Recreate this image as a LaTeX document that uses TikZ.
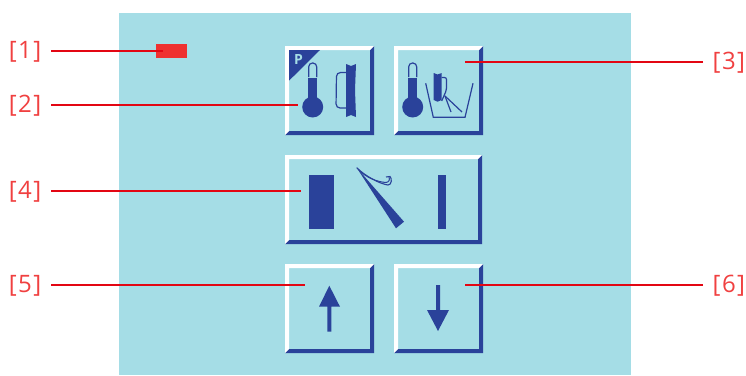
\documentclass[tikz,border=0pt]{standalone}
\usepackage{fontspec}
\setmainfont{Open Sans}
\newfontfamily\tagfont{Open Sans}[LetterSpace=6]
\usepackage{xcolor}
\usetikzlibrary{positioning, calc}

\definecolor{panelblue}{HTML}{A5DDE6}
\definecolor{iconblue}{HTML}{2A429A}
\definecolor{lampred}{HTML}{EF3030}
\definecolor{leadred}{HTML}{E30613}
\definecolor{tagred}{HTML}{F04040}

\begin{document}
\begin{tikzpicture}[
  x=1pt, y=-1pt,
  panel/.style={fill=panelblue, minimum width=512pt, minimum height=362pt, inner sep=0pt, anchor=north west},
  btn/.style={minimum width=#1, minimum height=89pt, inner sep=0pt, anchor=north west,
    path picture={
      \fill[white] (path picture bounding box.south west) -- (path picture bounding box.north west)
        -- (path picture bounding box.north east) -- ++(-4,4)
        -- ($(path picture bounding box.north west)+(4,4)$)
        -- ($(path picture bounding box.south west)+(4,-4)$) -- cycle;
      \fill[iconblue] (path picture bounding box.south west) -- (path picture bounding box.south east)
        -- (path picture bounding box.north east) -- ++(-4,4)
        -- ($(path picture bounding box.south east)+(-4,-4)$)
        -- ($(path picture bounding box.south west)+(4,-4)$) -- cycle;
    }},
  btn/.default=89pt,
  tagl/.style={font=\tagfont\fontsize{24}{24}\selectfont, text=tagred, text height=19pt, text depth=5pt, inner xsep=9.5pt, inner ysep=0pt, anchor=east},
  tagr/.style={font=\tagfont\fontsize{24}{24}\selectfont, text=tagred, text height=19pt, text depth=5pt, inner xsep=9.5pt, inner ysep=0pt, anchor=west},
  lead/.style={draw=leadred, line width=2.8pt},
  ico/.style={fill=iconblue},
  icoline/.style={draw=iconblue, line width=1.2pt},
  therm/.pic={
    \fill[ico] (0,0) circle (10.5);
    \fill[ico] (-4.5,-29) rectangle (4.5,-6);
    \draw[icoline, rounded corners=3.8pt] (-4,-30) -- (-4,-44) -- (4,-44) -- (4,-30);
  }
]
  \useasboundingbox (0,0) rectangle (746,375);
  \node[panel] (pnl) at (119,13) {};

  \node[fill=lampred, minimum width=31pt, minimum height=13.5pt, inner sep=0pt, anchor=north west] (lamp) at (156,44) {};

  \node[btn] (bheat) at (285,46) {};
  \node[btn] (bbath) at (394,46) {};
  \node[btn=197pt] (bdoor) at (285,155) {};
  \node[btn] (bup) at (285,264) {};
  \node[btn] (bdown) at (394,264) {};

  % first button
  \fill[ico] (289,50) -- (320,50) -- (289,80.7) -- cycle;
  \node[text=panelblue, font=\bfseries\fontsize{14}{14}\selectfont, inner sep=0pt] (plabel) at (298.5,59.5) {P};
  \pic at (312.7,107) {therm};
  \fill[ico] (346,64) -- (351,66) -- (356,64) -- (355,90) -- (356,117) -- (351,115) -- (346,117) -- cycle;
  \draw[icoline, rounded corners=4pt] (346,72.5) -- (336.5,72.5) -- (336,108) -- (346,108);

  % second button
  \pic at (412.7,107) {therm};
  \draw[icoline] (425.7,83.3) -- (433.3,117.3) -- (465,117.3) -- (473,83.3);
  \fill[ico] (433.7,73) -- (437.5,74.5) -- (441.7,73) -- (441.7,100) -- (437.5,101.7) -- (433.7,100) -- cycle;
  \draw[icoline, rounded corners=2pt] (441.7,77.5) -- (446.5,77.5) -- (446.5,90) -- (441.7,101);
  \draw[icoline] (445,96) -- (451,112);
  \draw[icoline] (445,96) -- (462,112);

  % wide button
  \fill[ico] (309.3,175) rectangle (334.3,228.7);
  \fill[ico] (438.3,175) rectangle (446,228.7);
  \fill[ico] (356.7,167.7) -- (404,221.7) -- (396,228.3) -- cycle;
  \draw[iconblue, line width=1.1pt] (356.7,167.7) .. controls (365,176) and (380,184) .. (388,185)
    .. controls (392,185) and (392,178) .. (390,176.5) -- (386,177);
  \draw[iconblue, line width=1pt] (358,169) .. controls (366,178) and (378,182) .. (386,182.5)
    .. controls (389,182) and (390,180) .. (389,177);

  % arrow buttons
  \fill[ico] (329.3,285.7) -- (340,306.7) -- (331.4,306.7) -- (331.4,331.7) -- (327.4,331.7) -- (327.4,306.7) -- (319,306.7) -- cycle;
  \fill[ico] (438,331) -- (449,310) -- (440,310) -- (440,285) -- (436,285) -- (436,310) -- (427,310) -- cycle;

  \node[tagl] (tag1) at (51,51) {[1]};
  \node[tagl] (tag2) at (51,105) {[2]};
  \node[tagr] (tag3) at (703,62) {[3]};
  \node[tagl] (tag4) at (51,191) {[4]};
  \node[tagl] (tag5) at (51,285) {[5]};
  \node[tagr] (tag6) at (703,285) {[6]};

  \coordinate (end1) at (163,51);
  \coordinate (end2) at (298,105);
  \coordinate (end3) at (465,62);
  \coordinate (end4) at (301,191);
  \coordinate (end5) at (305,285);
  \coordinate (end6) at (465,285);

  \draw[lead] (tag1.east) -- (end1);
  \draw[lead] (tag2.east) -- (end2);
  \draw[lead] (tag3.west) -- (end3);
  \draw[lead] (tag4.east) -- (end4);
  \draw[lead] (tag5.east) -- (end5);
  \draw[lead] (tag6.west) -- (end6);
\end{tikzpicture}
\end{document}
